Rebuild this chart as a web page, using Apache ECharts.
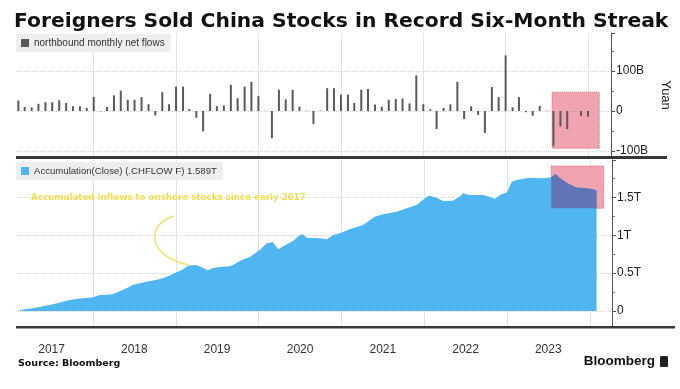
<!DOCTYPE html>
<html>
<head>
<meta charset="utf-8">
<script src="https://cdn.jsdelivr.net/npm/echarts@6/dist/echarts.min.js"></script>
<style>html,body{margin:0;padding:0;background:#fff}#c{width:680px;height:389px}</style>
</head>
<body>
<div id="c"></div>
<script>
// Monthly northbound net flows (billion yuan), Feb 2017 .. Jan 2024
var flowStartMonth = '2017-02';
var monthlyFlows = [26,10,9,18,22,22,27,20,12,12,8,35,
  -1,10,39,51,28,28,35,17,-11,47,17,61,
  61,5,-17,-51,43,12,14,65,32,61,73,37,
  0.5,-68,53,29,53,11,1,-32,1,57,57,41,
  41,20,53,55,16,11,28,30,31,19,89,17,
  4,-45,8,17,73,-20,12,-10,-55,60,35,139,
  9,35,-3,-12,13,1,-88,-39,-45,-1,-12,-14];

// Accumulated flows (trillion yuan)
var accumDates = ['2017-02-01','2017-03-01','2017-04-10','2017-05-15','2017-06-22','2017-08-01','2017-09-05','2017-10-18','2017-11-20','2018-01-01',
 '2018-01-31','2018-03-01','2018-03-28','2018-05-01','2018-05-28','2018-06-25','2018-08-25','2018-10-20','2018-11-20','2018-12-28',
 '2019-01-28','2019-02-25','2019-04-01','2019-04-30','2019-05-22','2019-06-12','2019-07-12','2019-08-28','2019-09-10','2019-10-10',
 '2019-11-25','2020-01-06','2020-02-06','2020-03-04','2020-03-28','2020-04-18','2020-06-01','2020-07-01','2020-07-15','2020-08-01',
 '2020-09-28','2020-10-28','2020-11-25','2020-12-25','2021-02-06','2021-04-06','2021-05-28','2021-07-03','2021-09-01','2021-10-15',
 '2021-11-28','2022-01-12','2022-01-25','2022-02-25','2022-03-25','2022-05-06','2022-06-06','2022-06-21','2022-07-18','2022-09-18',
 '2022-10-15','2022-11-08','2022-12-01','2023-01-01','2023-01-22','2023-02-12','2023-04-10','2023-06-10','2023-07-15','2023-07-22',
 '2023-08-03','2023-08-24','2023-09-15','2023-10-06','2023-11-03','2023-12-15','2024-01-12','2024-01-31'];
var accumValues = [0.000,0.020,0.035,0.055,0.080,0.105,0.136,0.158,0.168,0.180,
 0.210,0.215,0.222,0.265,0.300,0.343,0.387,0.418,0.450,0.500,
 0.540,0.600,0.607,0.570,0.536,0.563,0.580,0.590,0.607,0.660,
 0.717,0.805,0.893,0.906,0.814,0.853,0.923,1.003,1.010,0.967,
 0.960,0.945,1.003,1.025,1.080,1.135,1.245,1.275,1.310,1.354,
 1.398,1.508,1.520,1.495,1.450,1.455,1.508,1.552,1.530,1.530,
 1.508,1.478,1.530,1.565,1.706,1.728,1.759,1.750,1.765,1.772,
 1.807,1.750,1.706,1.670,1.630,1.618,1.608,1.589];

var yearLabelDates = ['2017-07-02','2018-07-02','2019-07-02','2020-07-02','2021-07-02','2022-07-02','2023-07-02'];
var xRange = ['2017-01-26','2024-04-08'];
// highlight boxes: [x0, x1, y0, y1]
var highlightTop = ['2023-07-26','2024-02-20',-93,47];
var highlightBottom = ['2023-07-15','2024-03-02',1.355,1.913];

function ts(s){ return echarts.number.parseDate(s).getTime(); }
var flowData = monthlyFlows.map(function(v,i){
  var y = +flowStartMonth.slice(0,4), m = +flowStartMonth.slice(5,7) - 1 + i;
  y += Math.floor(m/12); m = m % 12;
  return [y + '-' + (m < 9 ? '0' : '') + (m+1) + '-01', v];
});
var accumData = accumDates.map(function(d,i){return [d, accumValues[i]];});
var overlapData = accumData.filter(function(p){return p[0] >= highlightBottom[0];});

var FONT = 'Liberation Sans';
var YEAR = 365*86400000;
function xAxisTime(grid){
  return {
    type:'time', gridIndex:grid, min:xRange[0], max:xRange[1],
    minInterval:YEAR, maxInterval:YEAR+86400000*2,
    axisLine:{show:false}, axisTick:{show:false}, axisLabel:{show:false},
    splitLine:{show:true, showMinLine:false, showMaxLine:false, lineStyle:{color:'#e2e2e2', width:1}}
  };
}
var boxStyle = {color:'#f1a3b0', opacity:1, borderColor:'#e0607a', borderWidth:1, borderType:'dotted'};

var chart = echarts.init(document.getElementById('c'), null, {renderer:'canvas'});
chart.setOption({
  animation:false,
  backgroundColor:'#ffffff',
  title:{text:'Foreigners Sold China Stocks in Record Six-Month Streak', left:9, top:7,
    textStyle:{fontFamily:'DejaVu Sans', fontWeight:'bold', fontSize:20.3, color:'#111'}},
  legend:[
    {data:['northbound monthly net flows'], left:16, top:34, backgroundColor:'#eeeeee', padding:[4,6,4,5],
     itemWidth:8, itemHeight:8, itemGap:4, icon:'rect', textStyle:{fontFamily:FONT, fontSize:10, color:'#333'}},
    {data:['Accumulation(Close) (.CHFLOW F) 1.589T'], left:16, top:162, backgroundColor:'#eeeeee', padding:[4,6,4,5],
     itemWidth:8, itemHeight:8, icon:'rect', textStyle:{fontFamily:FONT, fontSize:9.6, color:'#333'}}
  ],
  grid:[
    {left:16, right:68, top:33, height:124},
    {left:16, right:68, top:160, height:167}
  ],
  xAxis:[xAxisTime(0), xAxisTime(1),
    {type:'value', gridIndex:1, min:ts(xRange[0]), max:ts(xRange[1]), position:'bottom',
     axisLine:{show:false}, axisTick:{show:false}, splitLine:{show:false},
     axisLabel:{show:true, customValues:yearLabelDates.map(ts), margin:17, fontFamily:FONT, fontSize:12, color:'#333',
       formatter:function(v){return String(new Date(v).getFullYear());}}}
  ],
  yAxis:[
    {type:'value', gridIndex:0, position:'right', min:-115, max:195, splitNumber:3,
     axisLine:{show:true, lineStyle:{color:'#555'}}, axisTick:{show:true, length:4, lineStyle:{color:'#555'}},
     minorTick:{show:true, splitNumber:2, length:3, lineStyle:{color:'#777'}},
     splitLine:{show:true, showMinLine:false, showMaxLine:false, lineStyle:{color:'#d6d6d6', type:'dotted'}},
     axisLabel:{showMinLabel:false, showMaxLabel:false, margin:5, fontFamily:FONT, fontSize:12, color:'#222',
       formatter:function(v){return v===0?'0':v+'B';}},
     name:'Yuan', nameLocation:'middle', nameRotate:-90, nameGap:38,
     nameTextStyle:{fontFamily:FONT, fontSize:13, color:'#222'}},
    {type:'value', gridIndex:1, position:'right', min:-0.211, max:1.992, splitNumber:4,
     axisLine:{show:true, lineStyle:{color:'#555'}}, axisTick:{show:true, length:4, lineStyle:{color:'#555'}},
     minorTick:{show:true, splitNumber:2, length:3, lineStyle:{color:'#777'}},
     splitLine:{show:true, showMinLine:false, showMaxLine:false, lineStyle:{color:'#d6d6d6', type:'dotted'}},
     axisLabel:{showMinLabel:false, showMaxLabel:false, margin:5, fontFamily:FONT, fontSize:12, color:'#222',
       formatter:function(v){return v===0?'0':v+'T';}}}
  ],
  series:[
    {type:'line', name:'_boxTop', xAxisIndex:0, yAxisIndex:0, data:[], z:1, silent:true,
     markArea:{silent:true, itemStyle:boxStyle, data:[[{coord:[highlightTop[0],highlightTop[3]]},{coord:[highlightTop[1],highlightTop[2]]}]]}},
    {type:'bar', name:'northbound monthly net flows', xAxisIndex:0, yAxisIndex:0, data:flowData, barWidth:2,
     itemStyle:{color:'#5a5a5a'}, z:3},
    {type:'line', name:'Accumulation(Close) (.CHFLOW F) 1.589T', xAxisIndex:1, yAxisIndex:1, data:accumData,
     showSymbol:false, symbol:'none', lineStyle:{width:0, color:'#4fb6f1'}, itemStyle:{color:'#4fb6f1'},
     areaStyle:{color:'#4fb6f1', opacity:1}, z:2},
    {type:'line', name:'_boxBottom', xAxisIndex:1, yAxisIndex:1, data:[], z:3, silent:true,
     markArea:{silent:true, itemStyle:boxStyle, data:[[{coord:[highlightBottom[0],highlightBottom[3]]},{coord:[highlightBottom[1],highlightBottom[2]]}]]}},
    {type:'line', name:'_overlap', xAxisIndex:1, yAxisIndex:1, data:overlapData, showSymbol:false, symbol:'none',
     lineStyle:{width:0}, areaStyle:{color:'#6174b6', opacity:1, origin:highlightBottom[2]}, z:4, silent:true}
  ],
  graphic:[
    {type:'rect', shape:{x:16, y:156, width:651, height:3}, style:{fill:'#383838'}, z:10},
    {type:'rect', shape:{x:16, y:326, width:659, height:2.5}, style:{fill:'#383838'}, z:10},
    {type:'text', left:31, top:193, style:{text:'Accumulated inflows to onshore stocks since early 2017',
      font:'bold 8.7px "DejaVu Sans"', fill:'#f2df50'}, z:10},
    {type:'bezierCurve', shape:{x1:174, y1:216, cpx1:146, cpy1:224, cpx2:146, cpy2:256, x2:189, y2:265},
      style:{stroke:'#f2e36a', lineWidth:1.5, fill:null}, z:10},
    {type:'text', left:18, top:359, style:{text:'Source: Bloomberg', font:'bold 9.5px "DejaVu Sans"', fill:'#111'}, z:10},
    {type:'text', right:25, top:354, style:{text:'Bloomberg', font:'bold 13.5px "Liberation Sans"', fill:'#111'}, z:10},
    {type:'rect', shape:{x:660, y:356, width:8, height:11, r:1.5}, style:{fill:'#222'}, z:10}
  ]
});
</script>
</body>
</html>
